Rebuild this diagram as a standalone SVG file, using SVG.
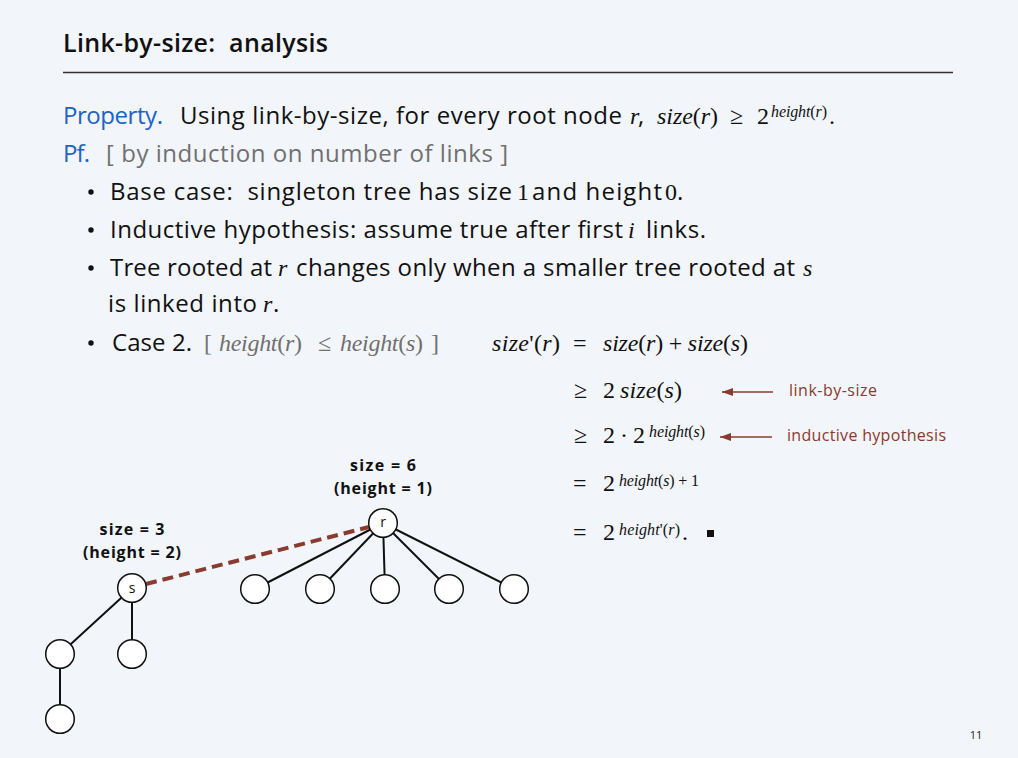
<svg xmlns="http://www.w3.org/2000/svg" width="1018" height="758" viewBox="0 0 1018 758">
<style>
.sans{font-family:"Open Sans","Liberation Sans",sans-serif;fill:#111;font-size:24px}
.serif{font-family:"Liberation Serif","Times New Roman",serif;fill:#111;font-size:24px}
.it{font-style:italic}
.sup{font-size:16px}
.blue{fill:#2162c4}
.gray{fill:#707070}
.red{font-family:"Open Sans","Liberation Sans",sans-serif;fill:#8b3a2f;font-size:16px}
.lbl{font-family:"Open Sans","Liberation Sans",sans-serif;font-weight:bold;font-size:16px;fill:#111;text-anchor:middle}
.node circle{fill:#fff;stroke:#111;stroke-width:1.5}
.nl{font-family:"Open Sans","Liberation Sans",sans-serif;font-size:14px;fill:#111;text-anchor:middle}
.edge{stroke:#111;stroke-width:2}
.arrow{stroke:#8b3a2f;stroke-width:1.6;marker-end:url(#ah)}
</style>
<defs>
<marker id="ah" markerWidth="11" markerHeight="8" refX="11" refY="4" orient="auto" markerUnits="userSpaceOnUse">
<path d="M0,0 L11,4 L0,8 z" fill="#8b3a2f"/>
</marker>
</defs>
<rect width="1018" height="758" fill="#f2f5f9"/>
<text x="63" y="52" font-family="'Open Sans','Liberation Sans',sans-serif" font-size="25" font-weight="600" fill="#111" textLength="265" xml:space="preserve">Link-by-size:  analysis</text>
<line x1="63" y1="72.5" x2="953" y2="72.5" stroke="#333" stroke-width="1.5"/>

<text x="63" y="124" class="sans blue" textLength="100">Property.</text>
<text x="180" y="124" class="sans" textLength="442">Using link-by-size, for every root node</text>
<text x="630" y="124" class="serif it">r</text>
<text x="638" y="124" class="sans">,</text>
<text x="657" y="124" class="serif" textLength="61"><tspan class="it">size</tspan>(<tspan class="it">r</tspan>)</text>
<text x="730" y="124" class="serif">≥</text>
<text x="757" y="124" class="serif">2</text>
<text x="771" y="117" class="serif sup" textLength="56"><tspan class="it">height</tspan>(<tspan class="it">r</tspan>)</text>
<text x="829" y="124" class="serif">.</text>

<text x="63" y="162" class="sans blue" textLength="27">Pf.</text>
<text x="106" y="162" class="sans gray" textLength="402">[ by induction on number of links ]</text>

<g fill="#111">
<circle cx="91" cy="192" r="2.7"/>
<circle cx="91" cy="230" r="2.7"/>
<circle cx="91" cy="268" r="2.7"/>
<circle cx="91" cy="343" r="2.7"/>
</g>
<text x="110" y="200" class="sans" textLength="402" xml:space="preserve">Base case:  singleton tree has size</text>
<text x="517" y="200" class="serif">1</text>
<text x="532" y="200" class="sans" textLength="130">and height</text>
<text x="665" y="200" class="serif">0</text>
<text x="677" y="200" class="sans">.</text>

<text x="110" y="238" class="sans" textLength="513">Inductive hypothesis: assume true after first</text>
<text x="628" y="238" class="serif it">i</text>
<text x="646" y="238" class="sans" textLength="60">links.</text>

<text x="110" y="276" class="sans" textLength="162">Tree rooted at</text>
<text x="278" y="276" class="serif it">r</text>
<text x="296" y="276" class="sans" textLength="499">changes only when a smaller tree rooted at</text>
<text x="803" y="276" class="serif it">s</text>

<text x="108" y="312" class="sans" textLength="149">is linked into</text>
<text x="263" y="312" class="serif it">r</text>
<text x="273" y="312" class="sans">.</text>

<text x="112" y="351" class="sans" textLength="80">Case 2.</text>
<g id="case-condition">
<text x="204" y="351" class="serif gray">[</text>
<text x="219" y="351" class="serif gray" textLength="83"><tspan class="it">height</tspan>(<tspan class="it">r</tspan>)</text>
<text x="318" y="351" class="serif gray">≤</text>
<text x="340" y="351" class="serif gray" textLength="83"><tspan class="it">height</tspan>(<tspan class="it">s</tspan>)</text>
<text x="431" y="351" class="serif gray">]</text>
</g>

<g id="derivation">
<text x="492" y="351" class="serif" textLength="68"><tspan class="it">size</tspan>'(<tspan class="it">r</tspan>)</text>
<text x="573" y="351" class="serif">=</text>
<text x="603" y="351" class="serif" textLength="145"><tspan class="it">size</tspan>(<tspan class="it">r</tspan>) + <tspan class="it">size</tspan>(<tspan class="it">s</tspan>)</text>
<text x="574" y="398" class="serif">≥</text>
<text x="603" y="398" class="serif">2</text>
<text x="620" y="398" class="serif" textLength="62"><tspan class="it">size</tspan>(<tspan class="it">s</tspan>)</text>
<text x="574" y="443" class="serif">≥</text>
<text x="603" y="443" class="serif" textLength="42">2 · 2</text>
<text x="649" y="437" class="serif sup" textLength="56"><tspan class="it">height</tspan>(<tspan class="it">s</tspan>)</text>
<text x="573" y="491" class="serif">=</text>
<text x="603" y="491" class="serif">2</text>
<text x="619" y="486" class="serif sup" textLength="80"><tspan class="it">height</tspan>(<tspan class="it">s</tspan>) + 1</text>
<text x="573" y="540" class="serif">=</text>
<text x="603" y="540" class="serif">2</text>
<text x="619" y="535" class="serif sup" textLength="61"><tspan class="it">height</tspan>'(<tspan class="it">r</tspan>)</text>
<text x="682" y="540" class="serif">.</text>
<rect x="707" y="530" width="7" height="7" fill="#111"/>
</g>

<g id="annotations">
<line class="arrow" x1="773" y1="392" x2="722" y2="392"/>
<text x="789" y="396" class="red" textLength="88">link-by-size</text>
<line class="arrow" x1="772" y1="437" x2="720" y2="437"/>
<text x="787" y="441" class="red" textLength="159">inductive hypothesis</text>
</g>

<g id="labels">
<text x="132" y="535" class="lbl" textLength="65">size = 3</text>
<text x="132" y="558" class="lbl" textLength="98">(height = 2)</text>
<text x="383" y="471" class="lbl" textLength="66">size = 6</text>
<text x="383" y="494" class="lbl" textLength="98">(height = 1)</text>
</g>

<g id="connectors">
<line class="edge" x1="383" y1="523" x2="255" y2="589"/>
<line class="edge" x1="383" y1="523" x2="320" y2="589"/>
<line class="edge" x1="383" y1="523" x2="385" y2="589"/>
<line class="edge" x1="383" y1="523" x2="449" y2="589"/>
<line class="edge" x1="383" y1="523" x2="514" y2="589"/>
<line class="edge" x1="132" y1="588" x2="60" y2="654"/>
<line class="edge" x1="132" y1="588" x2="132" y2="654"/>
<line class="edge" x1="60" y1="654" x2="60" y2="719"/>
<line x1="146" y1="584" x2="369" y2="527" stroke="#8b3a2f" stroke-width="4" stroke-dasharray="11,6"/>
</g>

<g id="node-r" class="node"><circle cx="383" cy="523" r="14.3"/><text x="383" y="527" class="nl">r</text></g>
<g id="node-s" class="node"><circle cx="132" cy="588" r="14.3"/><text x="132" y="593" class="nl">s</text></g>
<g id="node-r1" class="node"><circle cx="255" cy="589" r="14.3"/></g>
<g id="node-r2" class="node"><circle cx="320" cy="589" r="14.3"/></g>
<g id="node-r3" class="node"><circle cx="385" cy="589" r="14.3"/></g>
<g id="node-r4" class="node"><circle cx="449" cy="589" r="14.3"/></g>
<g id="node-r5" class="node"><circle cx="514" cy="589" r="14.3"/></g>
<g id="node-s1" class="node"><circle cx="60" cy="654" r="14.3"/></g>
<g id="node-s2" class="node"><circle cx="132" cy="654" r="14.3"/></g>
<g id="node-s3" class="node"><circle cx="60" cy="719" r="14.3"/></g>

<text x="976" y="739" font-family="'Open Sans','Liberation Sans',sans-serif" font-size="11" fill="#222" text-anchor="middle">11</text>
</svg>
